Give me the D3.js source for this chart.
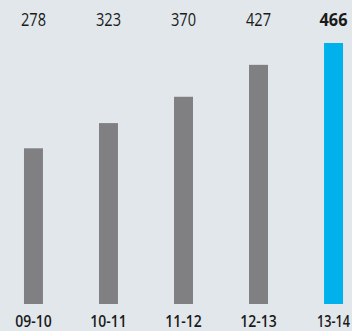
<!DOCTYPE html>
<html>
<head>
<meta charset="utf-8">
<script src="https://cdn.jsdelivr.net/npm/d3@7"></script>
<style>
  html, body { margin: 0; padding: 0; background: #e1e7ea; }
  svg { display: block; }
</style>
</head>
<body>
<svg id="chart" width="352" height="331"></svg>
<script>
// Yearly totals by fiscal period
const periods = ["09-10", "10-11", "11-12", "12-13", "13-14"];
const totals = [278, 323, 370, 427, 466];
const highlight = "13-14";

const width = 352, height = 331;
const svg = d3.select("#chart");

svg.append("rect").attr("width", width).attr("height", height).attr("fill", "#e1e7ea");

const x = d3.scaleBand()
  .domain(periods)
  .range([-4, 371])
  .paddingInner(0.747)
  .paddingOuter(0.373);

const y = d3.scaleLinear()
  .domain([0, 466])
  .range([304, 43]);

svg.selectAll("rect.bar")
  .data(periods)
  .join("rect")
  .attr("class", "bar")
  .attr("x", d => x(d))
  .attr("width", x.bandwidth())
  .attr("y", (d, i) => y(totals[i]))
  .attr("height", (d, i) => y(0) - y(totals[i]))
  .attr("fill", d => d === highlight ? "#00b1ec" : "#808083");

// value labels along the top (narrow face)
svg.selectAll("text.val")
  .data(periods)
  .join("text")
  .attr("class", "val")
  .attr("x", d => x(d) + x.bandwidth() / 2)
  .attr("y", 26.3)
  .attr("text-anchor", "middle")
  .attr("font-family", "'Open Sans', sans-serif")
  .attr("font-size", 18.5)
  .attr("font-weight", d => d === highlight ? 700 : 400)
  .attr("fill", "#1a1a1a")
  .attr("textLength", d => d === highlight ? 28 : 25)
  .attr("lengthAdjust", "spacingAndGlyphs")
  .text((d, i) => totals[i]);

// period axis labels, horizontally condensed and kept inside the right edge
const axis = d3.axisBottom(x).tickSize(0).tickPadding(0);
const g = svg.append("g").attr("transform", "translate(0,327)").call(axis);
g.select(".domain").remove();
g.selectAll("text")
  .attr("dy", 0)
  .attr("y", 0)
  .attr("font-family", "'Open Sans', sans-serif")
  .attr("font-size", 15.5)
  .attr("font-weight", 600)
  .attr("fill", "#1a1a1a")
  .each(function (d) {
    const len = this.getComputedTextLength();
    const cx = x(d) + x.bandwidth() / 2;
    const room = 2 * (width - 2 - cx);
    const sx = Math.min(0.9, room / len);
    d3.select(this).attr("transform", `scale(${sx},1)`);
  });
</script>
</body>
</html>
